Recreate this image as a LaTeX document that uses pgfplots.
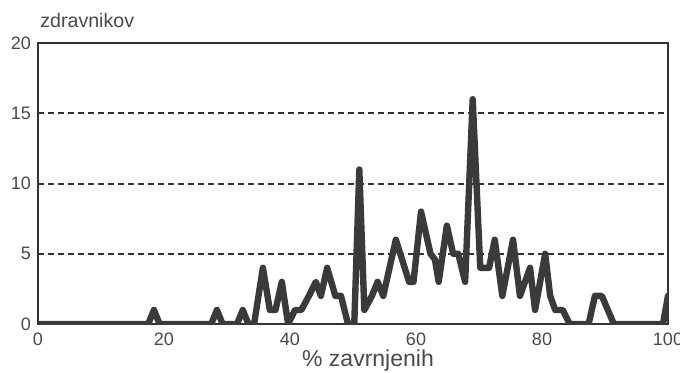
\documentclass[border=0pt]{standalone}
\usepackage{pgfplots}
\pgfplotsset{compat=1.18}
\usepackage{fontspec}
\setmainfont{Liberation Sans}
\definecolor{lineGray}{HTML}{3A3A3A}
\definecolor{txtGray}{HTML}{4A4A4A}
\begin{document}
\begin{tikzpicture}
\begin{axis}[
  at={(0,0)}, anchor=south west,
  scale only axis, width=315pt, height=140.5pt,
  xmin=0, xmax=100, ymin=0, ymax=20,
  xtick={0,20,40,60,80,100}, ytick={0,5,10,15,20},
  major tick length=0pt,
  ymajorgrids,
  grid style={dash pattern=on 3pt off 2pt, line width=1pt, color=black!80},
  axis line style={line width=0.8pt, black!80},
  tick label style={font=\fontsize{9}{10}\selectfont, text=txtGray},
  xticklabel style={inner sep=0pt, yshift=-4.5pt},
  /pgf/number format/assume math mode=true,
]
\addplot[color=lineGray, line width=3.2pt, line join=round, line cap=round] coordinates {
(0,0) (17.5,0) (18.4,1) (19.3,0) (27.5,0) (28.4,1) (29.3,0) (31.6,0) (32.5,1) (33.4,0)
(34.3,0) (35.7,4) (36.8,1) (37.7,1) (38.7,3) (39.7,0) (40.8,1) (41.8,1) (43,2) (44.1,3)
(44.9,2) (45.9,4) (47.2,2) (48.1,2) (49.2,0) (50.2,0) (51,11) (51.8,1) (53,2) (53.9,3)
(54.8,2) (56.8,6) (58.9,3) (59.6,3) (60.8,8) (62.3,5) (63,4.6) (63.6,3) (64.9,7) (65.9,5)
(66.7,5) (67.8,3) (69,16) (70.2,4) (71.6,4) (72.5,6) (73.7,2) (75.4,6) (76.5,2) (78.1,4)
(78.9,1) (80.5,5) (81.3,2) (82.1,1) (83.3,1) (84.4,0) (87.4,0) (88.4,2) (89.5,2) (91.4,0)
(99.2,0) (100,2)
};
\end{axis}
\node[anchor=base west, font=\fontsize{9.8}{11}\selectfont, text=txtGray, inner sep=0pt] at (1pt,148.5pt) {zdravnikov};
\node[anchor=base, font=\fontsize{11.5}{13}\selectfont, text=txtGray, inner sep=0pt] at (165pt,-21.3pt) {\% zavrnjenih};
\pgfresetboundingbox
\path (-19pt,-24pt) rectangle (321pt,162pt);
\end{tikzpicture}
\end{document}
